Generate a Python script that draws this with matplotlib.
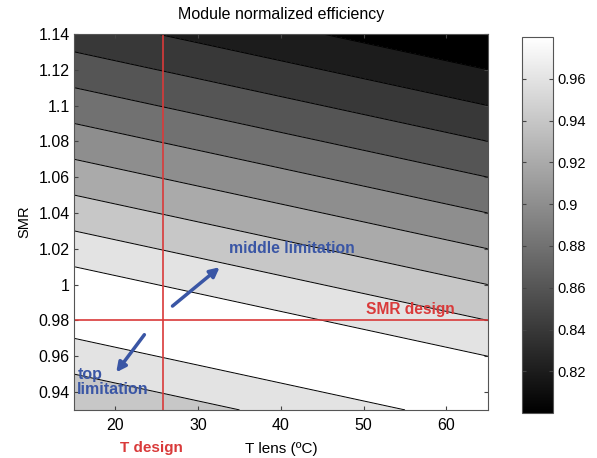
import numpy as np
import matplotlib
matplotlib.use("Agg")
import matplotlib.pyplot as plt
from matplotlib.cm import ScalarMappable
from matplotlib.colors import Normalize

plt.rcParams['font.family'] = ['Liberation Sans', 'DejaVu Sans']

# contour levels of the normalized efficiency (colorbar goes 0.80 -> 0.98)
levels = [0.78, 0.80, 0.82, 0.84, 0.86, 0.88, 0.90, 0.92, 0.94, 0.96, 0.99]
cbar_ticks = [0.82, 0.84, 0.86, 0.88, 0.90, 0.92, 0.94, 0.96]
cbar_labels = ['0.82', '0.84', '0.86', '0.88', '0.9', '0.92', '0.94', '0.96']

# ridge of max efficiency (SMR where efficiency peaks) at the two ends of T lens
t_ends = [15, 65]
ridge_smr = [0.99, 0.94]
eff_peak = 0.98
eff_drop = 1.0   # efficiency lost per unit of SMR away from the ridge

x_ticks = [20, 30, 40, 50, 60]
y_ticks = [0.94, 0.96, 0.98, 1.0, 1.02, 1.04, 1.06, 1.08, 1.1, 1.12, 1.14]
y_labels = ['0.94', '0.96', '0.98', '1', '1.02', '1.04', '1.06', '1.08', '1.1', '1.12', '1.14']

t_design = 25.8
smr_design = 0.98

red = '#d93a3a'
blue = '#3a56a5'

# grid
T = np.linspace(15, 65, 300)
S = np.linspace(0.93, 1.14, 300)
TT, SS = np.meshgrid(T, S)
ridge = np.interp(TT, t_ends, ridge_smr)
Z = eff_peak - eff_drop * np.abs(SS - ridge)

fig = plt.figure(figsize=(5.97, 4.58), dpi=100)
ax = fig.add_axes([0.124, 0.105, 0.693, 0.821])

# each band painted with the colour of its upper level (matlab style)
norm = Normalize(vmin=0.80, vmax=0.98)
band_cols = [plt.cm.gray(norm(min(hi, 0.98))) for hi in levels[1:]]
ax.contourf(TT, SS, Z, levels=levels, colors=band_cols)
ax.contour(TT, SS, Z, levels=levels[1:-1], colors='black', linewidths=0.7)

ax.axvline(t_design, color=red, lw=1.2)
ax.axhline(smr_design, color=red, lw=1.2)

ax.set_xlim(15, 65)
ax.set_ylim(0.93, 1.14)
ax.set_xticks(x_ticks)
ax.set_yticks(y_ticks)
ax.set_yticklabels(y_labels)
ax.tick_params(direction='in', top=True, right=True, labelsize=11.5, length=3, color='#444444')
ax.tick_params(axis='x', pad=6)
ax.tick_params(axis='y', pad=3)
for sp in ax.spines.values():
    sp.set_color('#555555')
    sp.set_linewidth(0.8)

ax.set_title('Module normalized efficiency', fontsize=11.5, pad=11)
ax.set_xlabel('T lens (ºC)', fontsize=11, labelpad=6)
ax.set_ylabel('SMR', fontsize=10.5, labelpad=5)

# annotations
ax.text(55.6, 0.986, 'SMR design', color=red, fontsize=11.2, fontweight='bold',
        ha='center', va='center')
ax.text(41.3, 1.020, 'middle limitation', color=blue, fontsize=11.3, fontweight='bold',
        ha='center', va='center')
ax.text(15.4, 0.9455, 'top\nlimitation', color=blue, fontsize=11.5, fontweight='bold',
        ha='left', va='center', linespacing=1.05)
ax.text(24.3, 0.9085, 'T design', color=red, fontsize=11, fontweight='bold',
        ha='center', va='center', clip_on=False)

arrow = dict(arrowstyle='-|>', color=blue, lw=2.5, mutation_scale=14, shrinkA=0, shrinkB=0)
ax.annotate('', xy=(32.6, 1.0097), xytext=(26.9, 0.988), arrowprops=arrow)
ax.annotate('', xy=(20.1, 0.951), xytext=(23.5, 0.972), arrowprops=arrow)

# colorbar
cax = fig.add_axes([0.874, 0.098, 0.052, 0.821])
sm = ScalarMappable(norm=norm, cmap='gray')
cb = fig.colorbar(sm, cax=cax)
cb.set_ticks(cbar_ticks)
cb.set_ticklabels(cbar_labels)
cax.tick_params(direction='in', left=True, right=True, labelsize=10.5, length=3, color='#444444')
cb.outline.set_edgecolor('#555555')
cb.outline.set_linewidth(0.8)

fig.savefig('out.png', dpi=100)
